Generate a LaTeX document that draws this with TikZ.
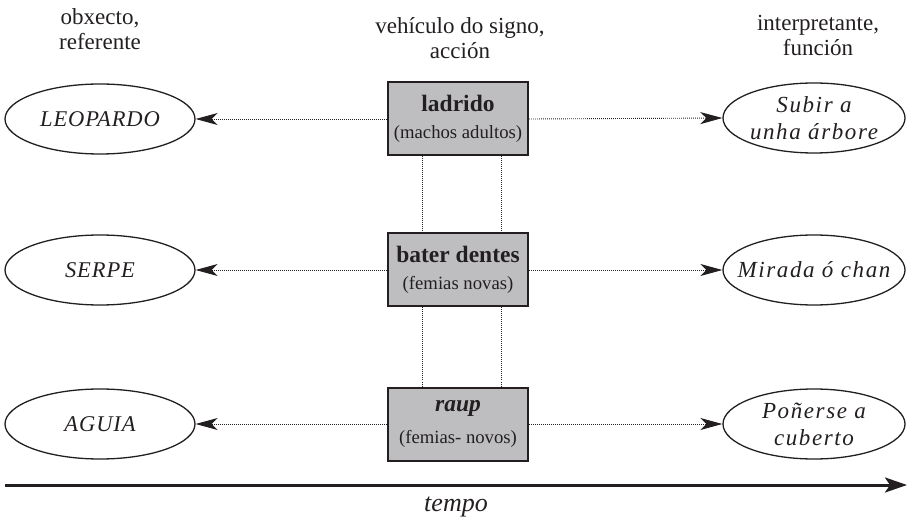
\documentclass[tikz,border=0pt]{standalone}
\usepackage{fontspec}
\setmainfont{Liberation Serif}
\usetikzlibrary{arrows.meta,shapes.geometric}
\definecolor{boxgray}{RGB}{190,190,193}
\definecolor{ink}{RGB}{35,31,32}
\begin{document}
\begin{tikzpicture}[x=1pt,y=-1pt,
  box/.style={draw=ink,line width=2pt,fill=boxgray,minimum width=140pt,minimum height=73pt,inner sep=0pt,align=center,text=ink},
  oval/.style={draw=ink,ellipse,line width=1.3pt,minimum height=70pt,inner sep=-25pt,align=center,text=ink},
  lov/.style={oval,minimum width=190pt,font=\fontsize{22.5}{27}\selectfont\itshape\addfontfeatures{LetterSpace=4}},
  rov/.style={oval,minimum width=182pt,font=\fontsize{23}{27}\selectfont\itshape\addfontfeatures{LetterSpace=7}},
  head/.style={align=center,text=ink,font=\fontsize{23}{25}\selectfont},
  link/.style={draw=ink,line width=0.9pt,dash pattern=on 0.9pt off 1.1pt},
  tipped/.style={-{Stealth[length=22pt,width=12pt,inset=6pt]}}]
\useasboundingbox (0,0) rectangle (907,518);
% headers
\node[head] (h1) at (100,29) {obxecto,\\referente};
\node[head] (h2) at (460,38) {vehículo do signo,\\acción};
\node[head] (h3) at (818,36) {interpretante,\\función};
% boxes
\node[box] (b1) at (458,119) {\fontsize{23.5}{28}\selectfont\bfseries ladrido\\[13pt]\fontsize{18.7}{22}\selectfont (machos adultos)};
\node[box] (b2) at (458,270) {\fontsize{23.5}{28}\selectfont\bfseries bater dentes\\[13pt]\fontsize{18.7}{22}\selectfont (femias novas)};
\node[box] (b3) at (458,424) {\fontsize{23.5}{28}\selectfont\bfseries\itshape raup\\[13pt]\fontsize{18.7}{22}\selectfont (femias- novos)};
% ellipses
\node[lov] (l1) at (100,119) {LEOPARDO};
\node[lov] (l2) at (100,270) {SERPE};
\node[lov] (l3) at (100,424) {AGUIA};
\node[rov] (r1) at (814,118) {Subir a\\unha árbore};
\node[rov] (r2) at (814,270) {Mirada ó chan};
\node[rov] (r3) at (814,424) {Poñerse a\\cuberto};
% connectors
\foreach \i in {1,2,3}{
  \draw[link,tipped] (b\i.west) -- (l\i.east);
  \draw[link,tipped] (b\i.east) -- (r\i.west);
}
\draw[link] ([xshift=-36pt]b1.south) -- ([xshift=-36pt]b2.north);
\draw[link] ([xshift=43pt]b1.south) -- ([xshift=43pt]b2.north);
\draw[link] ([xshift=-36pt]b2.south) -- ([xshift=-36pt]b3.north);
\draw[link] ([xshift=43pt]b2.south) -- ([xshift=43pt]b3.north);
% time axis
\coordinate (t0) at (5,485);
\coordinate (t1) at (907,485);
\draw[draw=ink,line width=3pt,-{Stealth[length=22pt,width=15pt,inset=5pt]}] (t0) -- (t1);
\node[text=ink,font=\fontsize{26}{30}\selectfont\itshape] (tm) at (456,507) {tempo};
\end{tikzpicture}
\end{document}
